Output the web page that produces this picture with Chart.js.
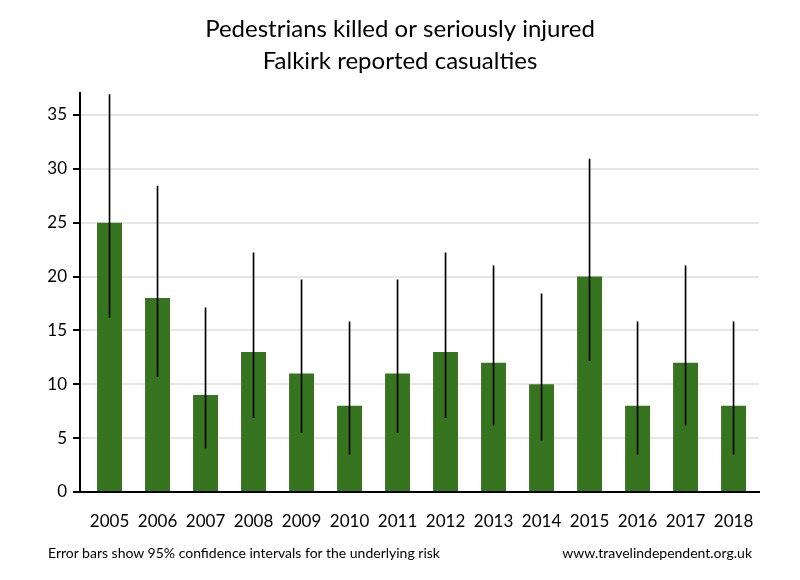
<!DOCTYPE html>
<html>
<head>
<meta charset="utf-8">
<script src="https://cdn.jsdelivr.net/npm/chart.js@4"></script>
<style>
  body { margin: 0; background: #fff; }
  #wrap { position: relative; width: 800px; height: 580px; }
  .note { position: absolute; top: 544px; font: 14px Lato, sans-serif; color: #000; }
</style>
</head>
<body>
<div id="wrap">
  <canvas id="chart" width="800" height="580"></canvas>
  <div class="note" style="left:48px">Error bars show 95% confidence intervals for the underlying risk</div>
  <div class="note" style="right:48px">www.travelindependent.org.uk</div>
</div>
<script>
let years = ['2005', '2006', '2007', '2008', '2009', '2010', '2011', '2012', '2013', '2014', '2015', '2016', '2017', '2018'];
let casualties = [25, 18, 9, 13, 11, 8, 11, 13, 12, 10, 20, 8, 12, 8];
let lower = [16.2, 10.7, 4.1, 6.9, 5.5, 3.5, 5.5, 6.9, 6.2, 4.8, 12.2, 3.5, 6.2, 3.5];
let upper = [36.9, 28.4, 17.1, 22.2, 19.7, 15.8, 19.7, 22.2, 21.0, 18.4, 30.9, 15.8, 21.0, 15.8];

let ctx = document.getElementById('chart').getContext('2d');

// bars sit on a numeric x axis so the first bar can start a little away from the y axis
let chart = new Chart(ctx, {
    type: 'bar',
    data: {
        datasets: [{
            data: years.map((y, i) => ({ x: i, y: [lower[i], upper[i]] })),
            backgroundColor: '#000',
            barThickness: 1,
            grouped: false,
            order: 0
        }, {
            data: years.map((y, i) => ({ x: i, y: casualties[i] })),
            backgroundColor: '#377420',
            barPercentage: 0.52,
            categoryPercentage: 1,
            grouped: false,
            order: 1
        }]
    },
    options: {
        animation: false,
        responsive: false,
        layout: { padding: { left: 41, right: 41, top: 0, bottom: 0 } },
        plugins: {
            legend: { display: false },
            tooltip: { enabled: false },
            title: {
                display: true,
                text: ['Pedestrians killed or seriously injured', 'Falkirk reported casualties'],
                color: '#000',
                font: { family: 'Lato', size: 24, weight: 'normal', lineHeight: 1.3 },
                padding: { top: 14, bottom: 17 }
            }
        },
        scales: {
            x: {
                type: 'linear',
                offset: false,
                min: -0.615,
                max: 13.53,
                grid: { display: false, drawTicks: false },
                border: { color: '#000', width: 2 },
                ticks: {
                    stepSize: 1,
                    includeBounds: false,
                    color: '#000',
                    padding: 19,
                    maxRotation: 0,
                    autoSkip: false,
                    font: { family: 'Lato', size: 17 },
                    callback: v => years[v] || ''
                },
                afterFit: s => { s.height = 88; }
            },
            y: {
                min: 0,
                max: 37,
                ticks: { stepSize: 5, includeBounds: false, color: '#000', padding: 6, font: { family: 'Lato', size: 17 } },
                grid: { color: '#e6e6e6', lineWidth: 2, tickColor: '#000', tickLength: 7, tickWidth: 2 },
                border: { color: '#000', width: 2 },
                afterFit: s => { s.width = 39; }
            }
        }
    }
});
</script>
</body>
</html>
